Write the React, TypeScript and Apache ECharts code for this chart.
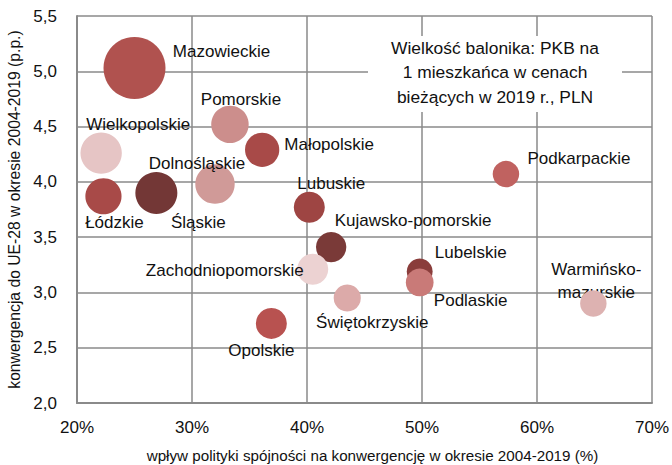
import React, { useEffect, useRef } from "react";
import * as echarts from "echarts";

// Region names
const regions = [
  "Mazowieckie",
  "Wielkopolskie",
  "Łódzkie",
  "Śląskie",
  "Dolnośląskie",
  "Pomorskie",
  "Małopolskie",
  "Lubuskie",
  "Kujawsko-pomorskie",
  "Zachodniopomorskie",
  "Świętokrzyskie",
  "Opolskie",
  "Lubelskie",
  "Podlaskie",
  "Podkarpackie",
  "Warmińsko-\nmazurskie",
];
// x: wpływ polityki spójności na konwergencję (%)
const cohesionImpact = [25.0, 22.1, 22.3, 26.9, 32.0, 33.3, 36.1, 40.2, 42.1, 40.5, 43.5, 36.9, 49.8, 49.8, 57.3, 64.9];
// y: konwergencja do UE-28 (p.p.)
const convergence = [5.03, 4.26, 3.87, 3.9, 3.98, 4.52, 4.29, 3.77, 3.41, 3.21, 2.95, 2.72, 3.19, 3.09, 4.07, 2.9];
// bubble size: PKB per capita 2019 (tys. PLN), estimated
const gdpPerCapita = [96, 64, 56, 65, 61, 58, 53, 48, 47, 48, 42, 48, 40, 43, 41, 41];

const xTicks = [20, 30, 40, 50, 60, 70];
const yTicks = [2.0, 2.5, 3.0, 3.5, 4.0, 4.5, 5.0, 5.5];

// styles (not data)
const bubbleColors = [
  "#b0524f", "#e6c5c5", "#a84a48", "#733736", "#d09a98", "#cc8e8c", "#a84a48", "#9e4543",
  "#7a3a38", "#ecd2d2", "#dcaaa9", "#b85250", "#8a3d3b", "#c97a78", "#c06260", "#ddb2b1",
];
const labelOffsets: [number, number][] = [
  [87, -16], [37, -29], [11, 26], [42, 30], [-18, -21], [11, -25], [67, -5], [22, -24],
  [82, -27], [-88, 1], [25, 25], [-10, 27], [51, -19], [51, 18], [73, -16], [3, -22],
];
const labelBelowBubble = [15];

const FONT = "'Liberation Sans', Arial, sans-serif";

export default function App() {
  const ref = useRef<HTMLDivElement>(null);
  useEffect(() => {
    if (!ref.current) return;
    const chart = echarts.init(ref.current, undefined, { renderer: "svg" });
    const items = regions.map((name, i) => ({
      name,
      value: [cohesionImpact[i], convergence[i], gdpPerCapita[i]],
      itemStyle: { color: bubbleColors[i], opacity: 1 },
      label: {
        show: !labelBelowBubble.includes(i),
        offset: labelOffsets[i],
      },
    }));
    const underItems = labelBelowBubble.map((i) => ({
      name: regions[i],
      value: [cohesionImpact[i], convergence[i], gdpPerCapita[i]],
      itemStyle: { opacity: 1, color: "transparent" },
      label: { show: true, offset: labelOffsets[i] },
    }));
    const labelCommon = {
      position: "inside",
      formatter: (p: any) => p.name,
      color: "#111",
      fontSize: 17,
      fontFamily: FONT,
      lineHeight: 23,
      align: "center",
      verticalAlign: "middle",
    };
    chart.setOption({
      animation: false,
      backgroundColor: "#fff",
      textStyle: { fontFamily: FONT },
      grid: { left: 77, right: 20, top: 16, bottom: 62, containLabel: false, outerBoundsMode: "none" },
      xAxis: {
        type: "value",
        min: xTicks[0],
        max: xTicks[xTicks.length - 1],
        interval: 10,
        axisLine: { show: true, lineStyle: { color: "#8a8a8a", width: 2 } },
        axisTick: { show: false },
        splitLine: { show: true, lineStyle: { color: "#8a8a8a", width: 1.5 } },
        axisLabel: {
          formatter: (v: number) => `${v}%`,
          color: "#111",
          fontSize: 17,
          fontFamily: FONT,
          margin: 16,
        },
        name: "wpływ polityki spójności na konwergencję w okresie 2004-2019 (%)",
        nameLocation: "middle",
        nameGap: 45,
        nameTextStyle: { color: "#111", fontSize: 15.2, fontFamily: FONT, padding: [0, 0, 0, 16] },
      },
      yAxis: {
        type: "value",
        min: yTicks[0],
        max: yTicks[yTicks.length - 1],
        interval: 0.5,
        axisLine: { show: true, lineStyle: { color: "#8a8a8a", width: 2 } },
        axisTick: { show: false },
        splitLine: { show: true, lineStyle: { color: "#8a8a8a", width: 1.5 } },
        axisLabel: {
          formatter: (v: number) => v.toFixed(1).replace(".", ","),
          color: "#111",
          fontSize: 17,
          fontFamily: FONT,
          margin: 20,
        },
        name: "konwergencja do UE-28 w okresie 2004-2019 (p.p.)",
        nameLocation: "middle",
        nameGap: 49,
        nameTextStyle: { color: "#111", fontSize: 15.7, fontFamily: FONT },
      },
      graphic: [
        {
          type: "rect",
          z: 100,
          shape: { x: 368, y: 36, width: 254, height: 76 },
          style: { fill: "#ffffff" },
        },
        {
          type: "text",
          z: 101,
          x: 495,
          y: 72,
          style: {
            text: "Wielkość balonika: PKB na\n1 mieszkańca w cenach\nbieżących w 2019 r., PLN",
            fill: "#111",
            font: `17.4px ${FONT}`,
            lineHeight: 24.5,
            align: "center",
            verticalAlign: "middle",
          },
        },
      ],
      series: [
        {
          type: "scatter",
          z: 2,
          symbolSize: 1,
          data: underItems,
          label: labelCommon,
          silent: true,
        },
        {
          type: "scatter",
          z: 3,
          symbolSize: (v: number[]) => v[2] * 0.646,
          data: items,
          label: labelCommon,
          silent: true,
        },
      ],
    });
    return () => chart.dispose();
  }, []);
  return <div ref={ref} style={{ position: "fixed", left: 0, top: 0, width: 672, height: 465 }} />;
}
